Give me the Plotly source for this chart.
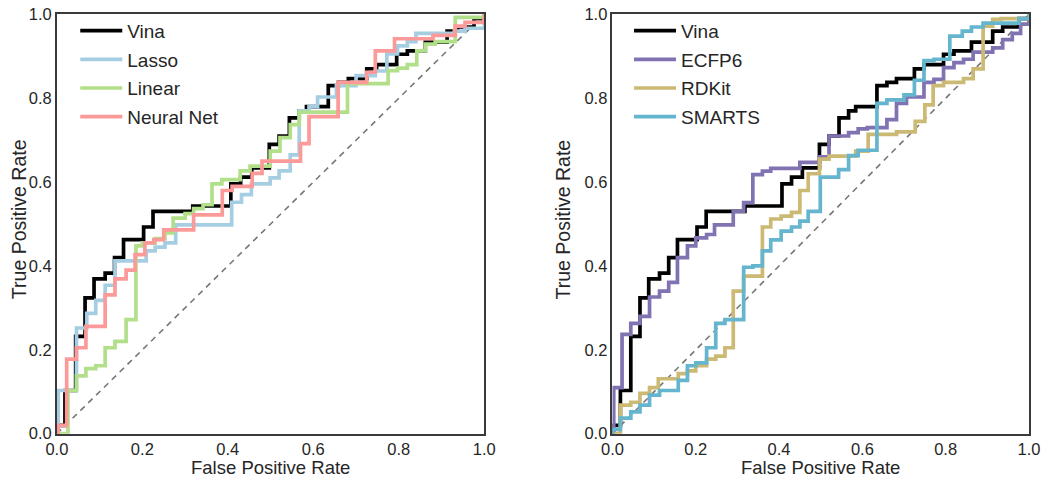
import plotly.graph_objects as go

# ---------------- data ----------------
vina_fpr = [0, 0, 0.019, 0.044, 0.066, 0.087, 0.113, 0.135, 0.156, 0.203, 0.225, 0.318, 0.407, 0.43, 0.456,
            0.497, 0.52, 0.544, 0.567, 0.584, 0.635, 0.659, 0.682, 0.725, 0.748, 0.795, 0.82, 0.862, 0.913,
            0.937, 0.976, 1.0]
vina_tpr = [0, 0.02, 0.103, 0.232, 0.324, 0.369, 0.383, 0.42, 0.463, 0.493, 0.53, 0.543, 0.596, 0.612, 0.634,
            0.69, 0.71, 0.753, 0.77, 0.78, 0.83, 0.838, 0.847, 0.87, 0.88, 0.905, 0.913, 0.934, 0.96,
            0.97, 0.99, 1.0]

lasso_fpr = [0, 0.003, 0.046, 0.07, 0.091, 0.113, 0.136, 0.209, 0.23, 0.253, 0.278, 0.409, 0.432, 0.455,
             0.499, 0.52, 0.546, 0.567, 0.59, 0.61, 0.654, 0.7, 0.745, 0.772, 0.797, 0.82, 0.84, 0.93, 0.955, 1.0]
lasso_tpr = [0, 0.103, 0.252, 0.287, 0.318, 0.354, 0.412, 0.436, 0.445, 0.455, 0.498, 0.552, 0.57, 0.596,
             0.61, 0.627, 0.665, 0.77, 0.78, 0.803, 0.83, 0.854, 0.865, 0.906, 0.925, 0.935, 0.955, 0.96, 0.967, 1.0]

linear_fpr = [0, 0.026, 0.046, 0.068, 0.091, 0.113, 0.136, 0.162, 0.185, 0.2, 0.23, 0.253, 0.272, 0.3, 0.32,
              0.342, 0.363, 0.386, 0.429, 0.452, 0.499, 0.522, 0.546, 0.567, 0.68, 0.775, 0.797, 0.82, 0.842,
              0.862, 0.885, 0.932, 1.0]
linear_tpr = [0, 0.103, 0.138, 0.155, 0.162, 0.205, 0.22, 0.272, 0.448, 0.455, 0.465, 0.479, 0.514, 0.525, 0.537,
              0.546, 0.596, 0.606, 0.627, 0.638, 0.674, 0.706, 0.737, 0.767, 0.835, 0.866, 0.872, 0.88, 0.913,
              0.929, 0.935, 0.993, 1.0]

nn_fpr = [0, 0.003, 0.023, 0.046, 0.068, 0.113, 0.136, 0.162, 0.183, 0.206, 0.227, 0.25, 0.32, 0.387, 0.41,
          0.457, 0.48, 0.57, 0.59, 0.658, 0.725, 0.745, 0.79, 0.88, 0.932, 0.955, 1.0]
nn_tpr = [0, 0.02, 0.178, 0.205, 0.256, 0.331, 0.369, 0.39, 0.427, 0.455, 0.463, 0.486, 0.522, 0.58, 0.59,
          0.621, 0.65, 0.692, 0.756, 0.838, 0.862, 0.913, 0.942, 0.95, 0.972, 0.981, 1.0]

ecfp_fpr = [0, 0.003, 0.023, 0.044, 0.066, 0.089, 0.113, 0.135, 0.156, 0.18, 0.2, 0.226, 0.245, 0.29, 0.315,
            0.337, 0.36, 0.38, 0.45, 0.497, 0.52, 0.567, 0.59, 0.612, 0.659, 0.682, 0.706, 0.748, 0.772, 0.795,
            0.82, 0.843, 0.866, 0.913, 0.937, 0.96, 0.98, 1.0]
ecfp_tpr = [0, 0.11, 0.237, 0.263, 0.28, 0.326, 0.34, 0.361, 0.42, 0.448, 0.467, 0.475, 0.498, 0.53, 0.551,
            0.618, 0.626, 0.633, 0.647, 0.66, 0.71, 0.718, 0.727, 0.73, 0.749, 0.788, 0.803, 0.838, 0.845, 0.873,
            0.885, 0.893, 0.91, 0.92, 0.94, 0.955, 0.977, 1.0]

rdkit_fpr = [0, 0.019, 0.044, 0.066, 0.089, 0.11, 0.158, 0.18, 0.2, 0.226, 0.248, 0.27, 0.29, 0.315, 0.36,
             0.38, 0.405, 0.43, 0.45, 0.47, 0.497, 0.52, 0.584, 0.614, 0.682, 0.727, 0.75, 0.77, 0.795, 0.843,
             0.866, 0.89, 0.913, 0.933, 1.0]
rdkit_tpr = [0, 0.068, 0.075, 0.096, 0.11, 0.131, 0.143, 0.15, 0.162, 0.178, 0.185, 0.205, 0.34, 0.376, 0.493,
             0.512, 0.519, 0.528, 0.58, 0.62, 0.655, 0.662, 0.674, 0.714, 0.72, 0.745, 0.784, 0.83, 0.838, 0.847,
             0.87, 0.972, 0.988, 0.99, 1.0]

smarts_fpr = [0, 0, 0.019, 0.044, 0.066, 0.089, 0.113, 0.158, 0.18, 0.2, 0.226, 0.248, 0.27, 0.315, 0.337,
              0.36, 0.38, 0.405, 0.43, 0.45, 0.47, 0.499, 0.543, 0.567, 0.59, 0.635, 0.659, 0.70, 0.725, 0.748,
              0.772, 0.81, 0.84, 0.862, 0.89, 0.976, 1.0]
smarts_tpr = [0, 0.01, 0.037, 0.052, 0.068, 0.092, 0.103, 0.127, 0.162, 0.169, 0.205, 0.263, 0.272, 0.397, 0.40,
              0.436, 0.462, 0.483, 0.493, 0.507, 0.53, 0.612, 0.63, 0.663, 0.676, 0.788, 0.796, 0.808, 0.843, 0.89,
              0.893, 0.948, 0.96, 0.97, 0.979, 0.99, 1.0]

chance = [0, 1]
tick_vals = [0, 0.2, 0.4, 0.6, 0.8, 1.0]
tick_text = ["0.0", "0.2", "0.4", "0.6", "0.8", "1.0"]

left_series = [("Vina", vina_fpr, vina_tpr, "#000000"),
               ("Lasso", lasso_fpr, lasso_tpr, "#a6cee3"),
               ("Linear", linear_fpr, linear_tpr, "#b2df8a"),
               ("Neural Net", nn_fpr, nn_tpr, "#fb9a99")]
right_series = [("Vina", vina_fpr, vina_tpr, "#000000"),
                ("ECFP6", ecfp_fpr, ecfp_tpr, "#8172b2"),
                ("RDKit", rdkit_fpr, rdkit_tpr, "#ccb974"),
                ("SMARTS", smarts_fpr, smarts_tpr, "#64b5cd")]

FONT = "Liberation Sans, Arial, sans-serif"
TXT = "#262626"

fig = go.Figure()

for (xa, ya, leg, series) in [("x", "y", "legend", left_series), ("x2", "y2", "legend2", right_series)]:
    fig.add_trace(go.Scatter(x=chance, y=chance, mode="lines", xaxis=xa, yaxis=ya,
                             line=dict(color="#777777", width=1.6, dash="6px,5px"),
                             showlegend=False, hoverinfo="skip"))
    for name, fx, ty, col in series:
        fig.add_trace(go.Scatter(x=fx, y=ty, mode="lines", name=name, xaxis=xa, yaxis=ya,
                                 line=dict(color=col, width=3.7, shape="hv"),
                                 legend=leg, legendgroup=leg + name))

axis_common = dict(range=[0, 1], tickvals=tick_vals, ticktext=tick_text, showgrid=False, zeroline=False,
                   showline=True, mirror=True, linecolor="#3a3a3a", linewidth=1.6, ticks="",
                   ticklabeloverflow="allow",
                   tickfont=dict(family=FONT, size=16.5, color=TXT), fixedrange=True)

legend_common = dict(font=dict(family=FONT, size=19, color=TXT), bgcolor="rgba(255,255,255,0)",
                     borderwidth=0, xanchor="left", yanchor="top", itemwidth=42, tracegroupgap=1)

xtitle_font = dict(family=FONT, size=18.5, color=TXT)
ytitle_font = dict(family=FONT, size=19.5, color=TXT)

fig.update_layout(
    width=1050, height=480,
    margin=dict(l=0, r=0, t=0, b=0),
    paper_bgcolor="white", plot_bgcolor="white",
    xaxis=dict(domain=[0.0446, 0.4604], anchor="y", **axis_common),
    yaxis=dict(domain=[0.0808, 0.9883], anchor="x", **axis_common),
    xaxis2=dict(domain=[0.5851, 0.9902], anchor="y2", **axis_common),
    yaxis2=dict(domain=[0.0808, 0.9883], anchor="x2", **axis_common),
    legend=dict(x=0.0625, y=0.994, **legend_common),
    legend2=dict(x=0.6012, y=0.994, **legend_common),
    annotations=[
        dict(text="False Positive Rate", x=0.2525, y=1 - 476 / 480, xref="paper", yref="paper", showarrow=False,
             xanchor="center", yanchor="middle", font=xtitle_font),
        dict(text="False Positive Rate", x=0.7876, y=1 - 476 / 480, xref="paper", yref="paper", showarrow=False,
             xanchor="center", yanchor="middle", font=xtitle_font),
        dict(text="True Positive Rate", x=0.0078, y=0.5452, xref="paper", yref="paper", showarrow=False,
             textangle=-90, xanchor="center", yanchor="middle", font=ytitle_font),
        dict(text="True Positive Rate", x=0.5373, y=0.5452, xref="paper", yref="paper", showarrow=False,
             textangle=-90, xanchor="center", yanchor="middle", font=ytitle_font),
    ],
)

fig.write_html("out.html", config={"displayModeBar": False},
               post_script="document.body.style.margin='0';")
